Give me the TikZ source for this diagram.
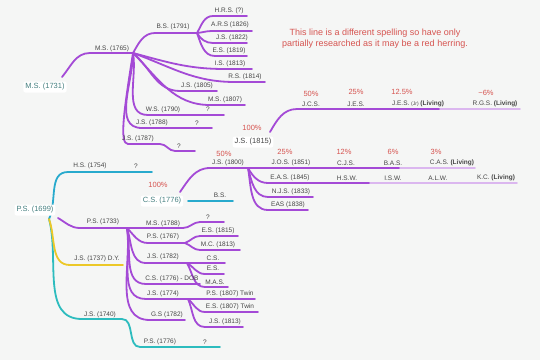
\documentclass[tikz,border=0pt]{standalone}
\usepackage{fontspec}
\setmainfont{Liberation Sans}
\usepackage{xcolor}
\usetikzlibrary{positioning}
\definecolor{mmpurple}{RGB}{164,74,214}
\definecolor{mmcyan}{RGB}{40,170,205}
\definecolor{mmteal}{RGB}{45,188,190}
\definecolor{mmyellow}{RGB}{236,200,40}
\definecolor{notered}{RGB}{214,84,80}
\definecolor{labelgray}{RGB}{70,70,70}
\definecolor{rootteal}{RGB}{70,128,128}
\definecolor{bgcol}{RGB}{245,246,245}
\tikzset{
    pline/.style={draw=mmpurple,line width=1.8pt,line cap=round},
    fline/.style={draw=mmpurple!40,line width=1.8pt,line cap=round},
    cline/.style={draw=mmcyan,line width=1.8pt,line cap=round},
    tline/.style={draw=mmteal,line width=1.8pt,line cap=round},
    yline/.style={draw=mmyellow,line width=1.8pt,line cap=round},
    mylabel/.style={font=\fontsize{6.5}{7}\selectfont,text=labelgray,inner sep=0.5pt},
    myroot/.style={font=\fontsize{7.5}{8}\selectfont,text=rootteal,fill=white,rounded corners=2pt,inner sep=2pt},
    mypct/.style={font=\fontsize{7.5}{8}\selectfont,text=notered,inner sep=0.5pt},
    mynote/.style={font=\fontsize{9}{11}\selectfont,text=notered,align=center}
}
\begin{document}
\begin{tikzpicture}[x=1pt,y=-1pt]
  \fill[bgcol] (0,0) rectangle (540,360);
  \useasboundingbox (0,0) rectangle (540,360);
  % hubs
  \coordinate (msroot) at (62,77);
  \coordinate (hubMS) at (133,53);
  \coordinate (hubBS) at (197,33);
  \coordinate (jsroot) at (270,132);
  \coordinate (csroot) at (180,192);
  \coordinate (hubJSa) at (248,168);
  \coordinate (psroot) at (49,219);
  \coordinate (hubPS) at (127,228);
  \coordinate (hubPSb) at (185,243);
  \coordinate (hubJSb) at (187,263);
  \coordinate (hubJSc) at (188,299);
  % M.S. (1731) line
  \draw[pline] (msroot) to[out=50,in=180] (90,53) -- (hubMS);
  \draw[pline] (hubMS) to[out=60,in=180] (155,33) -- (hubBS);
  \draw[pline] (hubBS) to[out=60,in=180] (213,16) -- (247,16);
  \draw[pline] (hubBS) to[out=5,in=180] (212,31) -- (252,31);
  \draw[pline] (hubBS) to[out=-60,in=180] (213,43) -- (247,43);
  \draw[pline] (hubBS) to[out=-70,in=180] (215,56) -- (247,56);
  \draw[pline] (hubMS) to[out=-15,in=180] (225,69) -- (252,69);
  \draw[pline] (hubMS) to[out=-20,in=180] (235,82) -- (265,82);
  \draw[pline] (hubMS) to[out=-40,in=180] (180,91) -- (217,91);
  \draw[pline] (hubMS) to[out=-45,in=180] (210,105) -- (245,105);
  \draw[pline] (hubMS) to[out=-80,in=180] (148,115) -- (224,115);
  \draw[pline] (hubMS) to[out=-90,in=180] (142,128) -- (212,128);
  \draw[pline] (hubMS) .. controls (124,110) and (119,144) .. (128,144)
    -- (160,144) to[out=0,in=180] (175,151) -- (195,151);
  % J.S. (1815) line
  \draw[pline] (jsroot) to[out=60,in=180] (297,109) -- (440,109);
  \draw[fline] (440,109) -- (520,109);
  % C.S. (1776) line
  \draw[pline] (csroot) to[out=55,in=180] (210,168) -- (hubJSa) -- (400,168);
  \draw[fline] (400,168) -- (475,168);
  \draw[pline] (hubJSa) to[out=-60,in=180] (268,183) -- (370,183);
  \draw[fline] (370,183) -- (517,183);
  \draw[pline] (hubJSa) to[out=-75,in=180] (268,197) -- (313,197);
  \draw[pline] (hubJSa) to[out=-80,in=180] (268,210) -- (308,210);
  \draw[cline] (188,201) -- (233,201);
  % P.S. (1699) lines
  \draw[cline] (psroot) to[out=65,in=180] (68,172) -- (152,172);
  \draw[tline] (psroot) to[out=-75,in=180] (82,319) -- (122,319)
    to[out=0,in=180] (140,347) -- (220,347);
  \draw[yline] (psroot) to[out=-70,in=180] (70,265) -- (123,265);
  \draw[pline] (58,218) to[out=-30,in=180] (80,228) -- (hubPS);
  \draw[pline] (hubPS) -- (183,228) to[out=0,in=180] (200,222) -- (224,222);
  \draw[pline] (hubPS) to[out=-45,in=180] (148,243) -- (hubPSb);
  \draw[pline] (hubPSb) to[out=20,in=180] (200,236) -- (238,236);
  \draw[pline] (hubPSb) to[out=-20,in=180] (200,250) -- (240,250);
  \draw[pline] (hubPS) to[out=-72,in=180] (146,263) -- (hubJSb) -- (225,263);
  \draw[pline] (hubJSb) to[out=-30,in=180] (205,274) -- (224,274);
  \draw[pline] (hubJSb) to[out=-60,in=180] (205,287) -- (228,287);
  \draw[pline] (hubPS) to[out=-78,in=180] (146,284) -- (200,284);
  \draw[pline] (hubPS) to[out=-80,in=180] (146,299) -- (hubJSc) -- (255,299);
  \draw[pline] (hubJSc) to[out=-40,in=180] (205,312) -- (258,312);
  \draw[pline] (hubJSc) to[out=-65,in=180] (205,327) -- (243,327);
  \draw[pline] (hubPS) to[out=-82,in=180] (150,320) -- (185,320);
  % note
  \node[mynote] (note) at (375,38.5) {This line is a different spelling so have only\\partially researched as it may be a red herring.};
  % M.S. (1731) labels
  \node[myroot] (ms1731) at (45,87) {M.S. (1731)};
  \node[mylabel] (ms1765) at (112,49) {M.S. (1765)};
  \node[mylabel] (bs1791) at (173,27) {B.S. (1791)};
  \node[mylabel] (hrs) at (229,11) {H.R.S. (?)};
  \node[mylabel] (ars1826) at (230,25) {A.R.S (1826)};
  \node[mylabel] (js1822) at (232,38) {J.S. (1822)};
  \node[mylabel] (es1819) at (229,51) {E.S. (1819)};
  \node[mylabel] (is1813) at (230,64) {I.S. (1813)};
  \node[mylabel] (rs1814) at (245,77) {R.S. (1814)};
  \node[mylabel] (js1805) at (197,86) {J.S. (1805)};
  \node[mylabel] (ms1807) at (225,100) {M.S. (1807)};
  \node[mylabel] (ws1790) at (163,110) {W.S. (1790)};
  \node[mylabel] (wsq) at (208,109) {?};
  \node[mylabel] (js1788) at (152,123) {J.S. (1788)};
  \node[mylabel] (js1788q) at (197,123) {?};
  \node[mylabel] (js1787) at (138,139) {J.S. (1787)};
  \node[mylabel] (js1787q) at (179,146) {?};
  % J.S. (1815) labels
  \node[mypct] (pjs1815) at (252,128) {100\%};
  \node[myroot,text=labelgray] (js1815) at (253,142) {J.S. (1815)};
  \node[mypct] (pjcs) at (311,94) {50\%};
  \node[mylabel] (jcs) at (311,104) {J.C.S.};
  \node[mypct] (pjes) at (356,92) {25\%};
  \node[mylabel] (jes) at (356,104) {J.E.S.};
  \node[mypct] (pjesjr) at (402,92) {12.5\%};
  \node[mylabel] (jesjr) at (418,104) {J.E.S. {\fontsize{5}{6}\selectfont(Jr)} \textbf{(Living)}};
  \node[mypct] (prgs) at (486,93) {\textasciitilde6\%};
  \node[mylabel] (rgs) at (495,104) {R.G.S. \textbf{(Living)}};
  % C.S. (1776) labels
  \node[mypct] (pcs1776) at (158,185) {100\%};
  \node[myroot] (cs1776) at (162,201) {C.S. (1776)};
  \node[mylabel] (bs) at (220,195) {B.S.};
  \node[mypct] (pjs1800) at (224,154) {50\%};
  \node[mylabel] (js1800) at (228,163) {J.S. (1800)};
  \node[mypct] (pjos) at (285,152) {25\%};
  \node[mylabel] (jos1851) at (291,163) {J.O.S. (1851)};
  \node[mypct] (pcjs) at (344,152) {12\%};
  \node[mylabel] (cjs) at (346,163) {C.J.S.};
  \node[mypct] (pbas) at (393,152) {6\%};
  \node[mylabel] (bas) at (393,163) {B.A.S.};
  \node[mypct] (pcas) at (436,152) {3\%};
  \node[mylabel] (cas) at (452,163) {C.A.S. \textbf{(Living)}};
  \node[mylabel] (eas1845) at (290,178) {E.A.S. (1845)};
  \node[mylabel] (hsw) at (347,178) {H.S.W.};
  \node[mylabel] (isw) at (393,178) {I.S.W.};
  \node[mylabel] (alw) at (438,178) {A.L.W.};
  \node[mylabel] (kc) at (496,178) {K.C. \textbf{(Living)}};
  \node[mylabel] (njs1833) at (291,192) {N.J.S. (1833)};
  \node[mylabel] (eas1838) at (288,205) {EAS (1838)};
  % P.S. (1699) labels
  \node[myroot] (ps1699) at (35,210) {P.S. (1699)};
  \node[mylabel] (hs1754) at (90,166) {H.S. (1754)};
  \node[mylabel] (hs1754q) at (136,166) {?};
  \node[mylabel] (ps1733) at (103,222) {P.S. (1733)};
  \node[mylabel] (ms1788) at (163,224) {M.S. (1788)};
  \node[mylabel] (ms1788q) at (208,217) {?};
  \node[mylabel] (ps1767) at (163,237) {P.S. (1767)};
  \node[mylabel] (es1815) at (218,231) {E.S. (1815)};
  \node[mylabel] (mc1813) at (218,245) {M.C. (1813)};
  \node[mylabel] (js1782) at (163,257) {J.S. (1782)};
  \node[mylabel] (cs) at (213,258) {C.S.};
  \node[mylabel] (es) at (213,268) {E.S.};
  \node[mylabel] (mas) at (215,282) {M.A.S.};
  \node[mylabel] (cs1776b) at (172,279) {C.S. (1776) - DOB};
  \node[mylabel] (js1774) at (163,294) {J.S. (1774)};
  \node[mylabel] (ps1807) at (230,294) {P.S. (1807) Twin};
  \node[mylabel] (es1807) at (230,307) {E.S. (1807) Twin};
  \node[mylabel] (js1813) at (225,322) {J.S. (1813)};
  \node[mylabel] (gs1782) at (167,315) {G.S (1782)};
  \node[mylabel] (js1737) at (97,259) {J.S. (1737) D.Y.};
  \node[mylabel] (js1740) at (100,315) {J.S. (1740)};
  \node[mylabel] (ps1776) at (160,342) {P.S. (1776)};
  \node[mylabel] (ps1776q) at (205,342) {?};
\end{tikzpicture}
\end{document}
